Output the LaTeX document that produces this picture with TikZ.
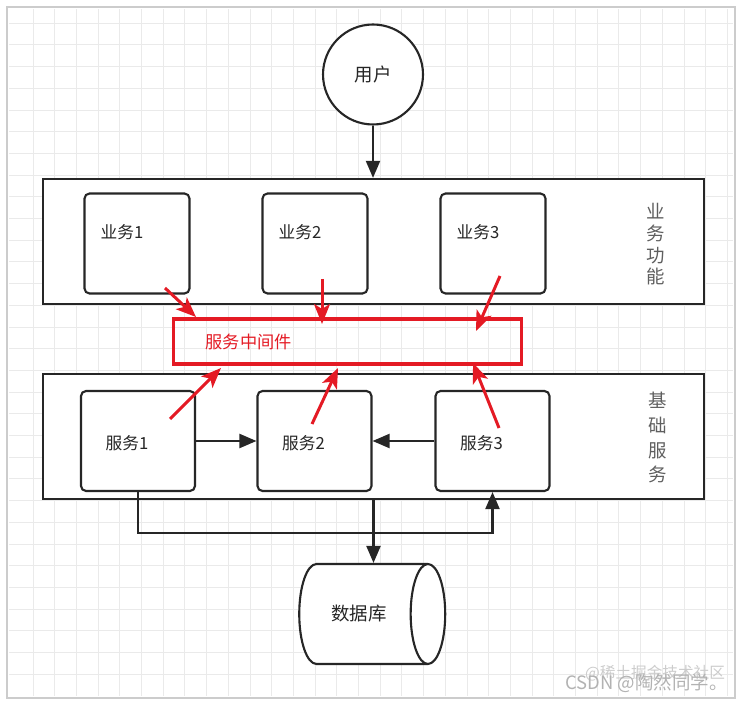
\documentclass[tikz,border=0pt]{standalone}
\usepackage{fontspec}
\setmainfont{Noto Sans CJK SC}
\usetikzlibrary{arrows.meta, shapes.geometric, positioning}
\definecolor{mwred}{RGB}{228,26,36}
\definecolor{inkgray}{RGB}{38,38,38}
\definecolor{sidegray}{RGB}{95,95,95}
\definecolor{gridgray}{RGB}{234,234,234}
\tikzstyle{tier} = [rectangle, 
minimum width=13.22cm, 
minimum height=2.5cm, 
draw=inkgray, line width=1.3pt, 
fill=white]
\tikzstyle{bizbox} = [rectangle, rounded corners=0.1cm, 
minimum width=2.1cm, 
minimum height=2cm, 
draw=inkgray, line width=1.2pt, 
fill=white]
\tikzstyle{svcbox} = [bizbox, minimum width=2.28cm]
\tikzstyle{biztext} = [text=inkgray, font=\fontsize{9.5}{11}\selectfont, xshift=-0.3cm, yshift=0.22cm]
\tikzstyle{svctext} = [text=inkgray, font=\fontsize{9.5}{11}\selectfont, xshift=-0.22cm, yshift=-0.04cm]
\tikzstyle{middleware} = [rectangle, 
minimum width=6.96cm, 
minimum height=0.9cm, 
draw=mwred, line width=1.9pt]
\tikzstyle{user} = [circle, minimum size=2cm, 
draw=inkgray, line width=1.2pt, fill=white, 
text=inkgray, font=\fontsize{10.5}{12}\selectfont]
\tikzstyle{database} = [cylinder, shape aspect=1.2, 
minimum width=2cm, minimum height=2.92cm, 
draw=inkgray, line width=1.2pt, fill=white, 
text=inkgray, font=\fontsize{10.5}{12}\selectfont]
\tikzstyle{sidelabel} = [text=sidegray, align=center]
\tikzstyle{gridline} = [draw=gridgray, line width=0.5pt]
\tikzstyle{arrow} = [line width=1.2pt, draw=inkgray, -{Triangle[length=0.34cm, width=0.28cm]}]
\tikzstyle{redarrow} = [line width=1.7pt, draw=mwred, -{Stealth[length=0.4cm, width=0.32cm, inset=0.1cm]}]

\begin{document}
\begin{tikzpicture}[x=0.02cm, y=-0.02cm]
\useasboundingbox (0,0) rectangle (742,705);

% grid paper
\foreach \gx in {1,...,33}
  \draw [gridline] ({11.3+21.7*\gx},9) -- ({11.3+21.7*\gx},696);
\foreach \gy in {1,...,31}
  \draw [gridline] (9,{1.5+21.7*\gy}) -- (733,{1.5+21.7*\gy});
\draw [gray!40, line width=0.8pt] (7,7) rectangle (735,698);

\node (user) [user] at (373,74.5) {用户};

\node (biz) [tier] at (373.5,241.5) {};
\node (biz1) [bizbox, label={[biztext]center:业务1}] at (137,243.5) {};
\node (biz2) [bizbox, label={[biztext]center:业务2}] at (315,243.5) {};
\node (biz3) [bizbox, label={[biztext]center:业务3}] at (493,243.5) {};
\node (bizname) [sidelabel, font=\fontsize{10.5}{12.3}\selectfont] at (656,244.5) {业\\务\\功\\能};

\node (mid) [middleware] at (347.5,341.5) {};
\node (midtext) [right=0.55cm of mid.west, text=mwred, font=\fontsize{9.8}{11}\selectfont] {服务中间件};

\node (base) [tier] at (373.5,436.5) {};
\node (svc1) [svcbox, label={[svctext]center:服务1}] at (138,441) {};
\node (svc2) [svcbox, label={[svctext]center:服务2}] at (314.5,441) {};
\node (svc3) [svcbox, label={[svctext]center:服务3}] at (492.5,441) {};
\node (basename) [sidelabel, font=\fontsize{10.5}{14.2}\selectfont] at (658,437.5) {基\\础\\服\\务};

\node (db) [database] at (359,614) {数据库};

\node (wm1) [text=gray!40, font=\fontsize{8.9}{10}\selectfont] at (655,673) {@稀土掘金技术社区};
\node (wm2) [text=gray!60, font=\fontsize{10.5}{12}\selectfont] at (646.5,683) {CSDN @陶然同学。};

\draw [arrow] (user) -- (user |- biz.north);
\draw [arrow] (svc1) -- (svc2);
\draw [arrow] (svc3) -- (svc2);
\coordinate (bus) at (373,533);
\draw [arrow] (svc1.south) |- (bus) -| (svc3.south);
\draw [arrow] (base.south) -- (base.south |- db.north);

% calls into the middleware
\coordinate (tail1) at (165,288);  \coordinate (tip1) at (196,317);
\coordinate (tail2) at (322,279);  \coordinate (tip2) at (322,324);
\coordinate (tail3) at (500,276);  \coordinate (tip3) at (476,331);
\coordinate (tail4) at (170,419);  \coordinate (tip4) at (221,368);
\coordinate (tail5) at (312,424);  \coordinate (tip5) at (338,368);
\coordinate (tail6) at (499,428);  \coordinate (tip6) at (473,363);
\foreach \i in {1,...,6}
  \draw [redarrow] (tail\i) -- (tip\i);

\end{tikzpicture}
\end{document}
